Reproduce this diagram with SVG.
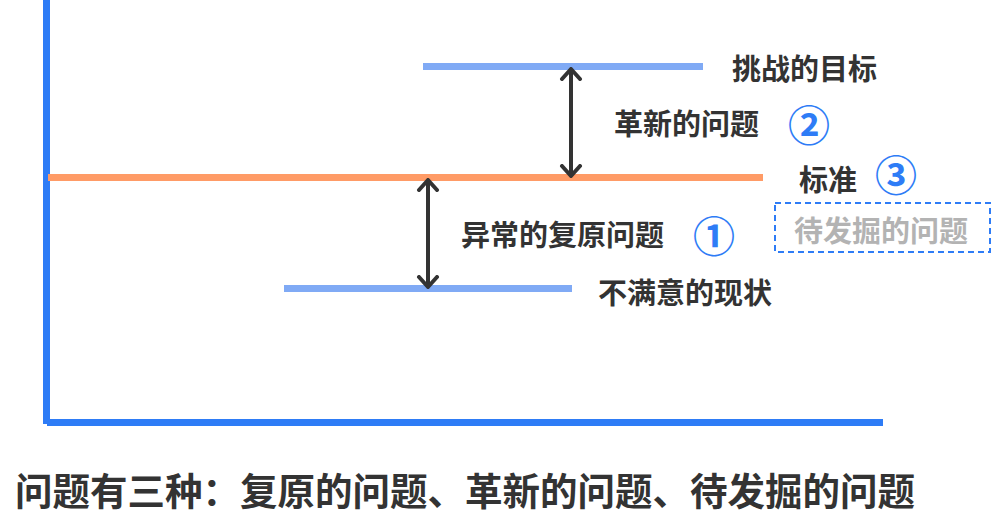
<svg xmlns="http://www.w3.org/2000/svg" width="992" height="518" viewBox="0 0 992 518">
<defs>
<style>
.t{font-family:"Noto Sans CJK SC","Noto Sans",sans-serif;font-weight:700;fill:#333333;dominant-baseline:central}
.n{font-family:"Noto Sans CJK SC","Noto Sans",sans-serif;font-weight:700;fill:#2E7CF6;dominant-baseline:central}
.arr{stroke:#333333;stroke-width:4;fill:none}
</style>
<marker id="ah" viewBox="0 0 14 24" refX="12" refY="12" markerWidth="14" markerHeight="24" markerUnits="userSpaceOnUse" orient="auto-start-reverse">
<path d="M2 3 L12 12 L2 21" fill="none" stroke="#333333" stroke-width="4" stroke-linecap="round" stroke-linejoin="round"/>
</marker>
</defs>
<rect width="992" height="518" fill="#ffffff"/>
<g id="axes">
<rect x="43" y="0" width="7" height="424" fill="#2E7CF6"/>
<rect x="47" y="419" width="836" height="7" fill="#2E7CF6"/>
</g>
<g id="levels">
<rect id="line-target" x="423" y="63" width="280" height="7" fill="#80AAF5"/>
<rect id="line-standard" x="48" y="174" width="715" height="7" fill="#FF9B66"/>
<rect id="line-current" x="284" y="285" width="288" height="7" fill="#80AAF5"/>
</g>
<g id="connectors">
<line class="arr" x1="571" y1="69" x2="571" y2="176" marker-start="url(#ah)" marker-end="url(#ah)"/>
<line class="arr" x1="428" y1="180" x2="428" y2="287" marker-start="url(#ah)" marker-end="url(#ah)"/>
</g>
<g id="node-target"><text class="t" x="732" y="67" font-size="29">挑战的目标</text></g>
<g id="node-innovation"><text class="t" x="614" y="122" font-size="29">革新的问题</text><text class="n" x="809" y="122" font-size="42" text-anchor="middle">②</text></g>
<g id="node-standard"><text class="t" x="799" y="178" font-size="29">标准</text><text class="n" x="896" y="172" font-size="42" text-anchor="middle">③</text></g>
<g id="node-restore"><text class="t" x="461" y="233" font-size="29">异常的复原问题</text><text class="n" x="714" y="233" font-size="42" text-anchor="middle">①</text></g>
<g id="node-discover"><rect x="775" y="203" width="215" height="49" fill="none" stroke="#2E7CF6" stroke-width="2" stroke-dasharray="6 4"/><text class="t" x="794" y="229" font-size="29" style="fill:#B3B3B3">待发掘的问题</text></g>
<g id="node-current"><text class="t" x="598" y="291" font-size="29">不满意的现状</text></g>
<g id="caption"><text class="t" x="15" y="488" font-size="37.5">问题有三种：复原的问题、革新的问题、待发掘的问题</text></g>
</svg>
